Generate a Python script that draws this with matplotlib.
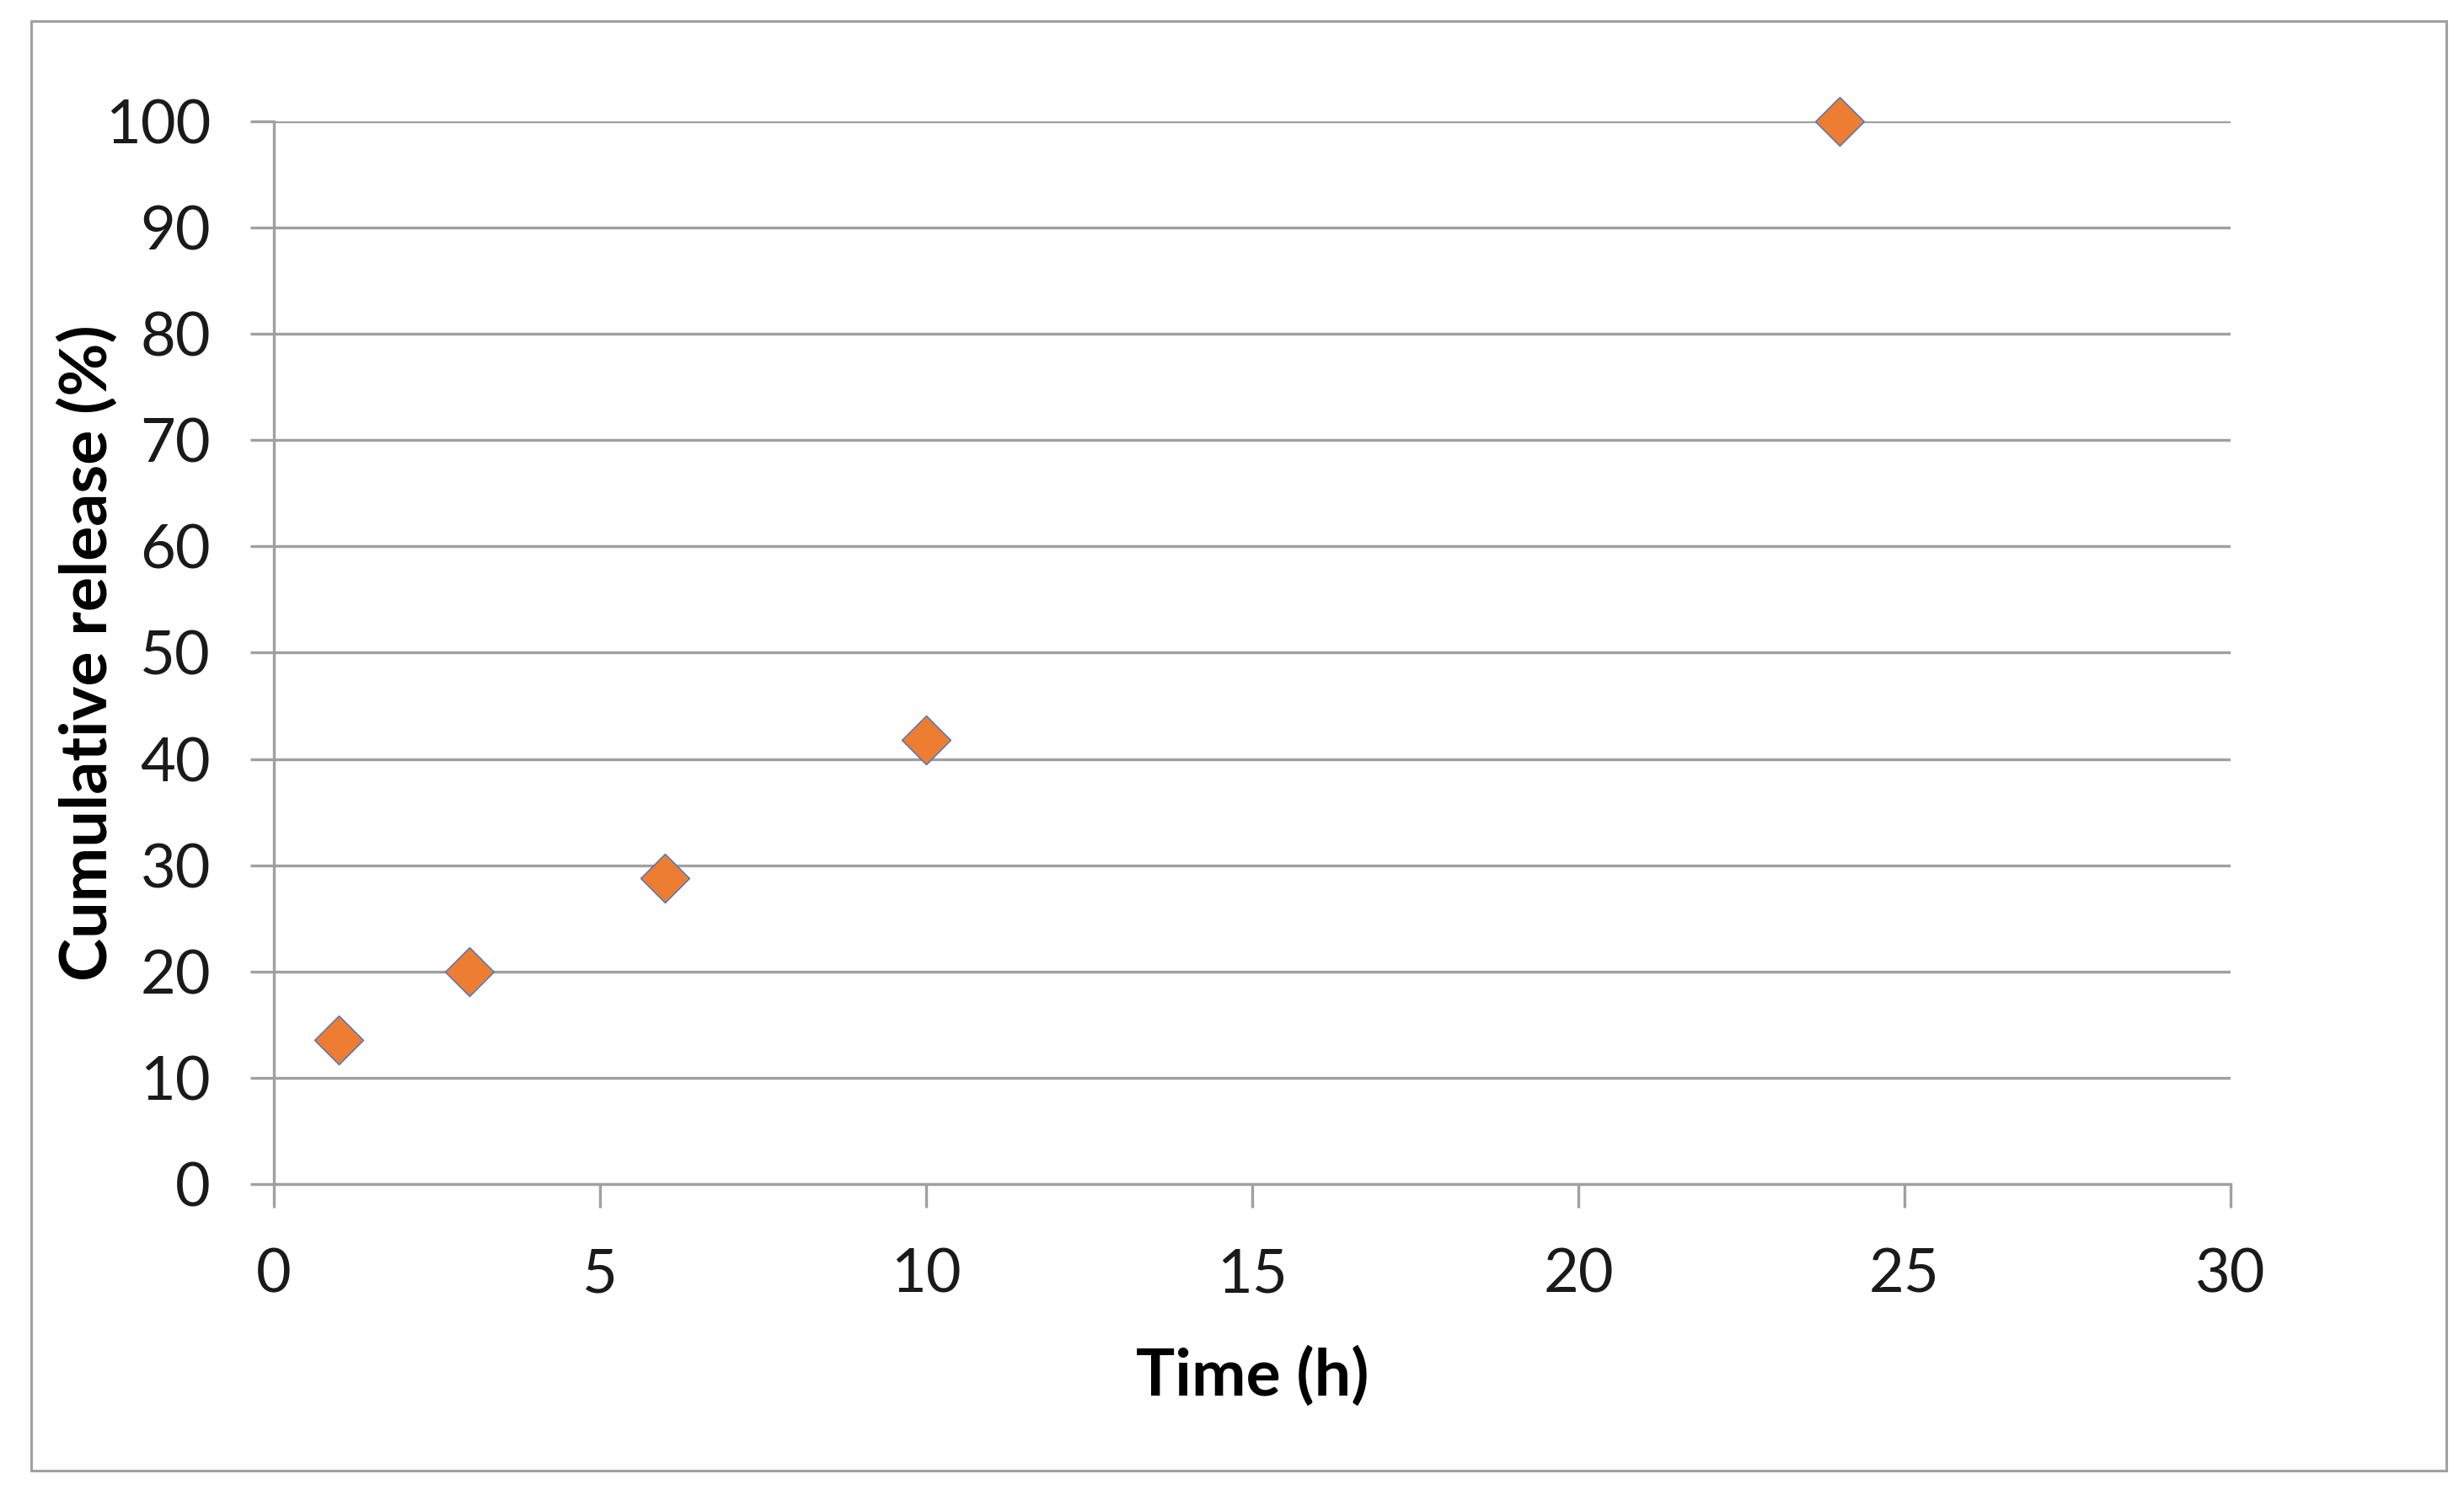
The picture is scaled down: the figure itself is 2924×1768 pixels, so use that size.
import matplotlib
matplotlib.use("Agg")
import matplotlib.pyplot as plt
from matplotlib.patches import Rectangle

# data
time_h = [1, 3, 6, 10, 24]
release_pct = [13.6, 20.0, 28.8, 41.8, 100.0]
x_ticks = [0, 5, 10, 15, 20, 25, 30]
y_ticks = [0, 10, 20, 30, 40, 50, 60, 70, 80, 90, 100]

gray = '#a0a0a0'
plt.rcParams['font.family'] = ['Lato', 'DejaVu Sans']

fig = plt.figure(figsize=(29.24, 17.68), dpi=100)
ax = fig.add_axes([325/2924, 1 - 1405/1768, (2647-325)/2924, (1405-144)/1768])

# outer chart border
fig.patches.append(Rectangle((37/2924, 1 - 1745/1768), (2903-37)/2924, (1745-25)/1768,
                             transform=fig.transFigure, fill=False, edgecolor=gray, linewidth=2.2))

ax.plot(time_h, release_pct, linestyle='none', marker='D', markersize=29.5,
        markerfacecolor='#ED7D31', markeredgecolor='#4472C4', markeredgewidth=1.0,
        clip_on=False, zorder=5)

ax.set_xlim(0, 30)
ax.set_ylim(0, 100)
ax.set_xticks(x_ticks)
ax.set_yticks(y_ticks)
ax.grid(axis='y', color=gray, linewidth=2.4)
ax.set_axisbelow(True)

for s in ['top', 'right']:
    ax.spines[s].set_visible(False)
for s in ['left', 'bottom']:
    ax.spines[s].set_color(gray)
    ax.spines[s].set_linewidth(2.4)

ax.tick_params(axis='both', direction='out', length=20, width=2.4, color=gray,
               labelsize=52, labelcolor='#1a1a1a')
ax.tick_params(axis='x', pad=34)
ax.tick_params(axis='y', pad=34)

ax.set_xlabel('Time (h)', fontsize=55.5, fontweight='bold')
ax.xaxis.set_label_coords(1486/2924, 1 - 1656/1768, transform=fig.transFigure)
ax.xaxis.label.set_va('baseline')
ax.set_ylabel('Cumulative release (%)', fontsize=55.5, fontweight='bold')
ax.yaxis.set_label_coords(104/2924, 1 - 775/1768, transform=fig.transFigure)
ax.yaxis.label.set_va('center')

fig.savefig('out.png', dpi=100)
